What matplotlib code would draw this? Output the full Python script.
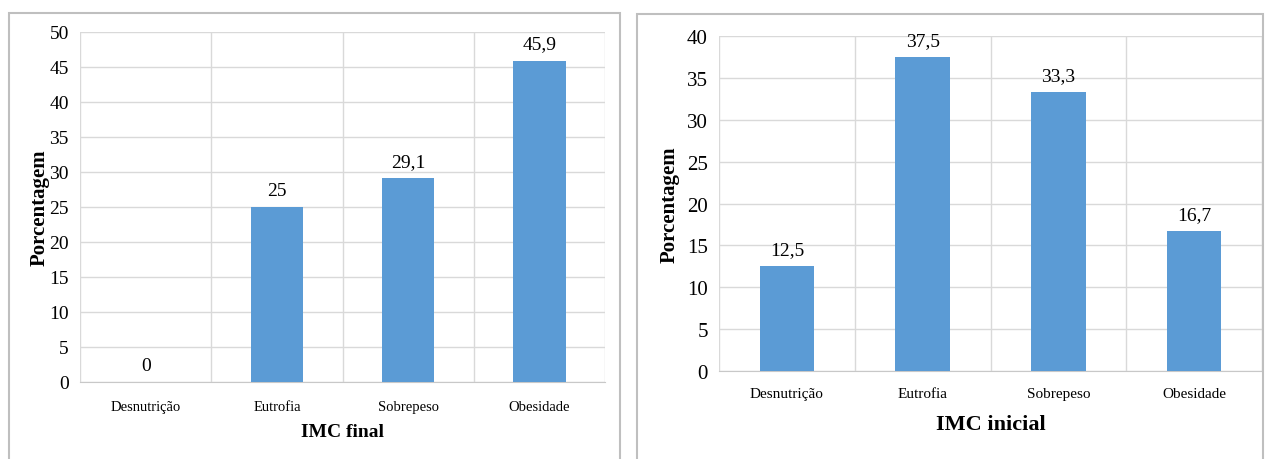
import matplotlib.pyplot as plt
from matplotlib.patches import Rectangle

# Dados
categorias = ['Desnutrição', 'Eutrofia', 'Sobrepeso', 'Obesidade']
imc_final = [0, 25, 29.1, 45.9]
imc_inicial = [12.5, 37.5, 33.3, 16.7]

cor_barra = '#5B9BD5'
cor_grade = '#D9D9D9'
fonte = 'Liberation Serif'


def rotulo(v):
    return ('%g' % v).replace('.', ',')


def grafico(ax, valores, ymax, xlabel, fs_tick, fs_cat, fs_xlab, pad_cat, ylab_x, xlab_y):
    x = range(len(categorias))
    ax.bar(x, valores, width=0.4, color=cor_barra, zorder=3)
    for i, v in zip(x, valores):
        ax.annotate(rotulo(v), (i, v), xytext=(0, 6), textcoords='offset points',
                    ha='center', va='bottom', fontsize=14, family=fonte)
    ax.set_xlim(-0.5, len(categorias) - 0.5)
    ax.set_ylim(0, ymax)
    ax.set_yticks(range(0, ymax + 1, 5))
    ax.set_yticklabels([str(t) for t in range(0, ymax + 1, 5)], family=fonte, fontsize=fs_tick)
    ax.set_xticks(list(x))
    ax.set_xticklabels(categorias, family=fonte, fontsize=fs_cat)
    # linhas verticais entre categorias
    for b in [i - 0.5 for i in range(len(categorias) + 1)]:
        ax.axvline(b, color=cor_grade, lw=1, zorder=1)
    ax.yaxis.grid(True, color=cor_grade, lw=1, zorder=1)
    ax.set_axisbelow(True)
    for s in ['top', 'right', 'left']:
        ax.spines[s].set_visible(False)
    ax.spines['bottom'].set_color('#C8C8C8')
    ax.tick_params(length=0, pad=8)
    ax.tick_params(axis='x', pad=pad_cat)
    ax.set_xlabel(xlabel, family=fonte, fontsize=fs_xlab, fontweight='bold')
    ax.set_ylabel('Porcentagem', family=fonte, fontsize=15, fontweight='bold')
    ax.yaxis.set_label_coords(ylab_x, 0.5)
    ax.xaxis.set_label_coords(0.5, xlab_y)


fig = plt.figure(figsize=(12.67, 4.6), dpi=100)

# molduras dos dois painéis
fig.add_artist(Rectangle((9 / 1267, -0.05), 611 / 1267, 1.05 - 14 / 460,
                         transform=fig.transFigure, fill=False, edgecolor='#BFBFBF', lw=1.5))
fig.add_artist(Rectangle((637 / 1267, -0.05), 626 / 1267, 1.05 - 15 / 460,
                         transform=fig.transFigure, fill=False, edgecolor='#BFBFBF', lw=1.5))

ax1 = fig.add_axes([80 / 1267, 1 - 383 / 460, 525 / 1267, 350 / 460])
grafico(ax1, imc_final, 50, 'IMC final', 14, 10.5, 14, 13, -0.058, -0.117)

ax2 = fig.add_axes([719 / 1267, 1 - 372 / 460, 543 / 1267, 335 / 460])
grafico(ax2, imc_inicial, 40, 'IMC inicial', 15, 11, 16, 11.5, -0.072, -0.128)

fig.savefig('out.png', dpi=100)
